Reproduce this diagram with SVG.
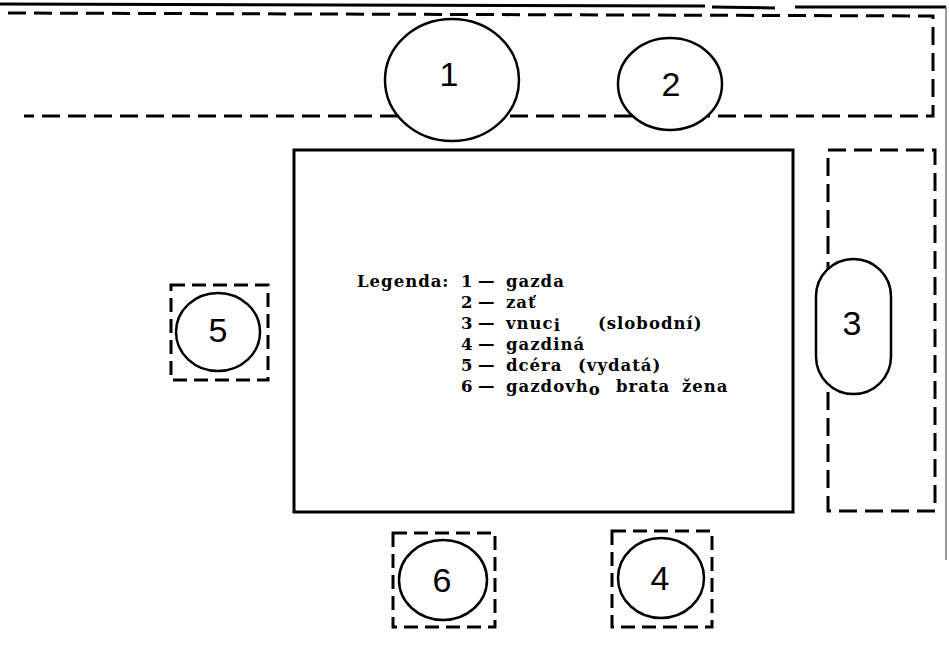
<svg xmlns="http://www.w3.org/2000/svg" width="949" height="667" viewBox="0 0 949 667">
  <style>
    .solid { fill: none; stroke: #000; stroke-width: 3; }
    .dash { fill: none; stroke: #000; stroke-width: 3; stroke-dasharray: 18 8; }
    .dsq { fill: none; stroke: #000; stroke-width: 3; stroke-dasharray: 14 7; }
    .seat { fill: #fff; stroke: #000; stroke-width: 2.5; }
    .num { font-family: "Liberation Sans", "DejaVu Sans", sans-serif; font-size: 34px; fill: #000; text-anchor: middle; dominant-baseline: central; }
    .leg { font-family: "DejaVu Serif", "Liberation Serif", serif; font-weight: bold; font-size: 16.5px; fill: #000; letter-spacing: 1px; }
  </style>
  <rect width="949" height="667" fill="#fff"/>

  <g id="page-edge">
    <path class="solid" d="M0 4 L705 6 M712 7 L775 8 M795 7 L946 7" stroke-width="2.5"/>
    <path d="M946 7 V560" stroke="#777" stroke-width="1.5" fill="none"/>
  </g>

  <g id="bench-top">
    <path class="dash" d="M8 13 L933 16 L933 116 L24 116"/>
  </g>

  <g id="bench-right">
    <rect class="dash" x="828" y="150" width="107" height="361"/>
  </g>

  <g id="table">
    <rect class="solid" x="294" y="150" width="499" height="362"/>
  </g>

  <g id="connectors"/>

  <g id="seat-1">
    <ellipse class="seat" cx="452" cy="80" rx="67" ry="61"/>
    <text class="num" x="449" y="74">1</text>
  </g>

  <g id="seat-2">
    <ellipse class="seat" cx="670" cy="84" rx="52" ry="46"/>
    <text class="num" x="671" y="84">2</text>
  </g>

  <g id="seat-3">
    <rect class="seat" x="816" y="259" width="75" height="135" rx="37.5"/>
    <text class="num" x="852" y="323">3</text>
  </g>

  <g id="seat-5">
    <rect class="dsq" x="171" y="285" width="97" height="95"/>
    <ellipse class="seat" cx="218" cy="332" rx="42" ry="39"/>
    <text class="num" x="218" y="330">5</text>
  </g>

  <g id="seat-6">
    <rect class="dsq" x="393" y="533" width="102" height="94"/>
    <ellipse class="seat" cx="443" cy="580" rx="44" ry="40"/>
    <text class="num" x="442" y="580">6</text>
  </g>

  <g id="seat-4">
    <rect class="dsq" x="612" y="531" width="100" height="96"/>
    <ellipse class="seat" cx="661" cy="578" rx="43" ry="40"/>
    <text class="num" x="660" y="578">4</text>
  </g>

  <g id="legend" class="leg">
    <text x="357" y="287">Legenda:</text>
    <text x="461" y="287">1</text><text x="478" y="287">—</text><text x="506" y="287">gazda</text>
    <text x="461" y="308">2</text><text x="478" y="308">—</text><text x="506" y="308">zať</text>
    <text x="461" y="329">3</text><text x="478" y="329">—</text><text x="506" y="329">vnuc<tspan dy="2">i</tspan><tspan dy="-2" x="598">(slobodní)</tspan></text>
    <text x="461" y="350">4</text><text x="478" y="350">—</text><text x="506" y="350">gazdiná</text>
    <text x="461" y="371">5</text><text x="478" y="371">—</text><text x="506" y="371">dcéra<tspan x="578">(vydatá)</tspan></text>
    <text x="461" y="392">6</text><text x="478" y="392">—</text><text x="506" y="392">gazdovh<tspan dy="3">o</tspan><tspan dy="-3" x="616">brata</tspan><tspan x="682">žena</tspan></text>
  </g>
</svg>
